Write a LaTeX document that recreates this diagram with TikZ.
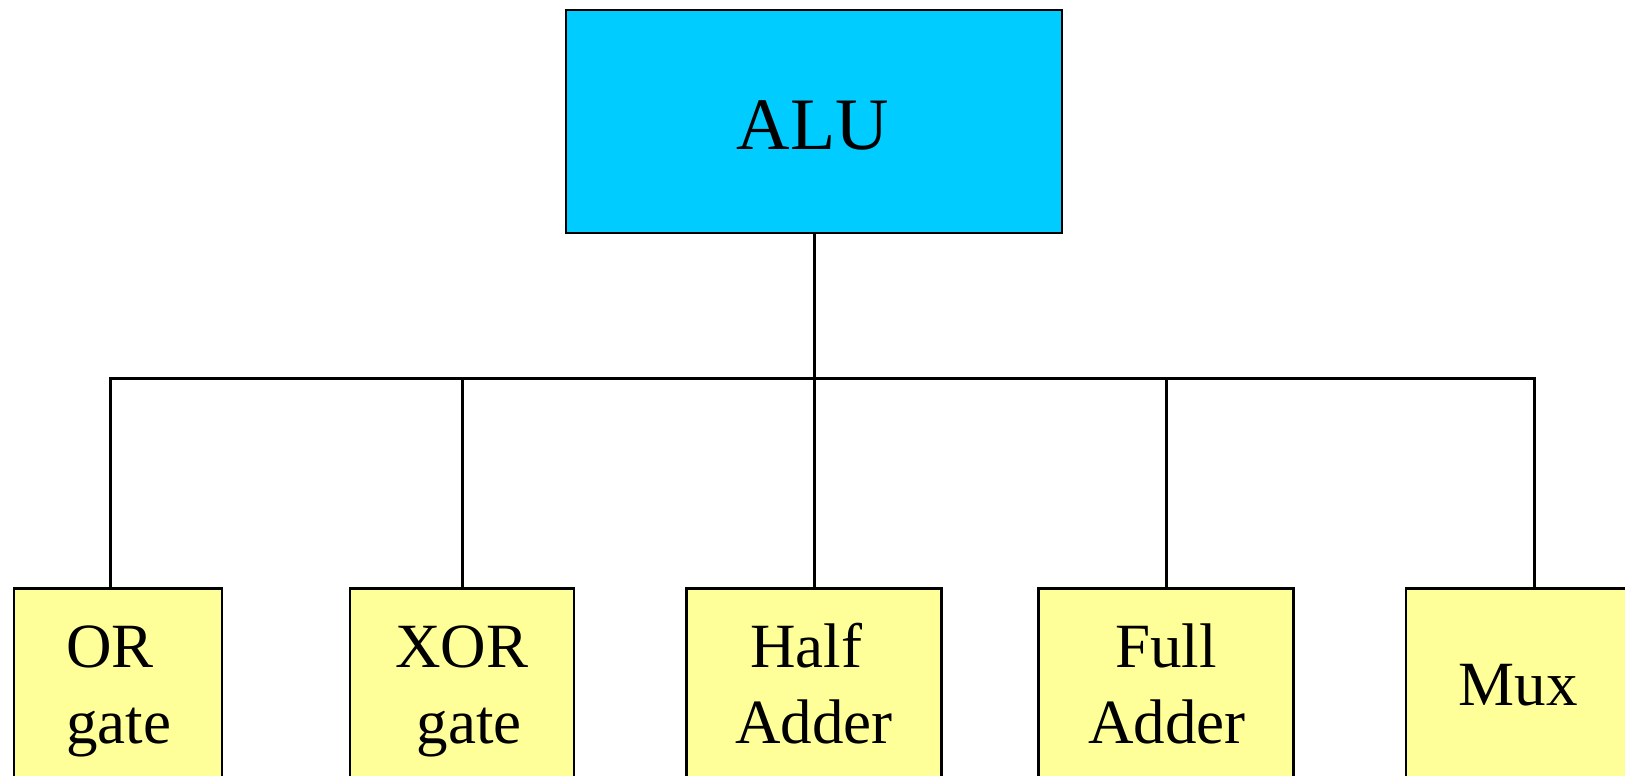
\documentclass[tikz,border=0pt]{standalone}
\usepackage{fontspec}
\setmainfont{Liberation Serif}
\definecolor{alucyan}{HTML}{00CCFF}
\definecolor{partyellow}{HTML}{FFFF99}
\begin{document}
\begin{tikzpicture}[x=1pt,y=-1pt,
  box/.style={draw=black, line width=2.6pt, inner sep=0pt},
  topbox/.style={box, fill=alucyan, minimum width=496pt, minimum height=223pt},
  partbox/.style={box, fill=partyellow, anchor=north, minimum height=240pt},
  wire/.style={line width=3pt},
  toplbl/.style={font=\fontsize{74}{88}\selectfont, inner sep=0pt, anchor=base},
  lbl/.style={font=\fontsize{63}{76}\selectfont, inner sep=0pt, anchor=base}]
\useasboundingbox (0,0) rectangle (1625,776);
\clip (0,0) rectangle (1625,776);

% top block
\node[topbox] (alu) at (814,121.5) {};
\node[toplbl] (alutext) at (813,149) {ALU};

% leaf blocks
\node[partbox, minimum width=208pt] (orb)   at (118,587) {};
\node[partbox, minimum width=224pt] (xorb)  at (462,587) {};
\node[partbox, minimum width=255pt] (halfb) at (814,587) {};
\node[partbox, minimum width=255pt] (fullb) at (1166,587) {};
\node[partbox, minimum width=256pt] (muxb)  at (1534,587) {};

% labels
\node[lbl, anchor=base west] (or1) at (66,667) {OR};
\node[lbl, anchor=base west] (or2) at (66,743) {gate};
\node[lbl] (xor1) at (462,667) {XOR};
\node[lbl] (xor2) at (469,743) {gate};
\node[lbl] (half1) at (806,667) {Half};
\node[lbl] (half2) at (814,743) {Adder};
\node[lbl] (full1) at (1166,667) {Full};
\node[lbl] (full2) at (1167,743) {Adder};
\node[lbl] (mux1) at (1518,705) {Mux};

% tree connectors
\coordinate (bus) at (814,378);
\draw[wire] (alu.south) -- (bus);
\draw[wire] ([xshift=-8pt]orb.north) |- (bus);
\draw[wire] (xorb.north) |- (bus);
\draw[wire] (halfb.north) -- (bus);
\draw[wire] (fullb.north) |- (bus);
\draw[wire] (muxb.north) |- (bus);
\end{tikzpicture}
\end{document}
